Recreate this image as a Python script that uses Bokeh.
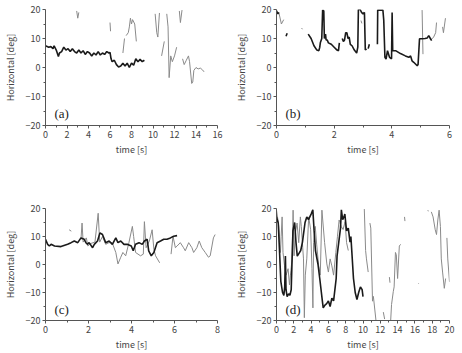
import math
from bokeh.plotting import figure
from bokeh.layouts import gridplot
from bokeh.models import Range1d, FixedTicker, Label
from bokeh.embed import file_html
from bokeh.resources import INLINE

N = float("nan")

# ---------------- panel (a) ----------------
a_black_t = [0, 0.3, 0.5, 0.7, 0.8, 1.0, 1.2, 1.3, 1.5, 1.7, 1.9, 2.1, 2.3, 2.5, 2.7, 2.9, 3.1, 3.3, 3.5, 3.7,
             3.9, 4.1, 4.3, 4.5, 4.7, 4.9, 5.1, 5.3, 5.5, 5.7, 5.9, 6.0, 6.1, 6.2, 6.4, 6.6, 6.8, 7.0, 7.2, 7.4,
             7.6, 7.8, 8.0, 8.2, 8.4, 8.6, 8.8, 9.0, 9.2]
a_black_v = [7.5, 7.0, 7.2, 6.5, 7.5, 6.0, 3.8, 5.0, 5.5, 7.0, 6.0, 6.5, 5.5, 6.5, 5.5, 5.0, 6.0, 5.0, 5.8, 4.5,
             5.5, 5.0, 4.0, 5.0, 4.3, 5.5, 4.3, 5.0, 4.5, 5.5, 5.0, 5.2, 3.0, 2.0, 2.5, 1.0, 0.2, 0.5, 1.5, 0.5,
             1.5, 0.0, 1.5, 0.8, 3.0, 2.0, 2.8, 2.0, 2.5]
a_gray_t = [2.9, 3.0, 3.1, N, 6.0, 6.05, N, 7.2, 7.35, N, 7.5, 7.7, 7.8, 7.9, 8.0, 8.1, 8.3, 8.45, N,
            10.2, 10.35, 10.45, 10.6, N, 10.8, 11.05, N, 11.28, 11.4, 11.5, 11.65, 11.8, 12.0, 12.2, N,
            12.45, 12.55, 12.7, N, 12.75, 12.9, 13.1, 13.3, 13.4, 13.6, 13.7, 13.8, 14.0, 14.2, 14.4, 14.6, 14.75]
a_gray_v = [19.5, 17.0, 19.0, N, 15.5, 12.5, N, 5.0, 10.0, N, 11.0, 12.0, 14.0, 17.0, 15.0, 16.5, 15.0, 9.0, N,
            18.5, 12.0, 10.5, 18.8, N, 4.0, 9.0, N, 18.5, 14.0, -3.5, 4.0, 2.0, 4.0, 7.0, N,
            19.5, 15.5, 19.8, N, 3.0, 1.0, 2.5, 4.0, 2.0, -5.5, -5.0, -1.0, 0.0, -0.5, -0.2, -0.8, -1.5]

# ---------------- panel (b) ----------------
b_black_t = [0.0, 0.05, 0.08, N, 0.33, 0.37, N,
             1.1, 1.2, 1.3, 1.4, 1.47, 1.5, 1.52, 1.57, 1.6, 1.64, 1.66, 1.7, 1.72, 1.76, 1.8, 1.9, 2.0, 2.1,
             2.15, 2.18, N,
             2.28, 2.32, 2.36, 2.4, 2.44, 2.48, 2.52, 2.56, 2.62, 2.7, 2.78, 2.82, 2.84, 2.9, 2.95, 3.0, 3.05,
             3.08, 3.12, N, 3.18, 3.22, N,
             3.5, 3.51, 3.6, 3.69, 3.72, 3.76, 3.8, 3.85, 3.89, 3.92, 3.99, 4.01, 4.03, 4.13, 4.3, 4.47, 4.59,
             4.65, 4.7, 4.76, 4.82, 4.88, 4.91, 4.96, 5.05, 5.15, 5.23, 5.28, 5.38]
b_black_v = [19.5, 18.5, 19.0, N, 10.8, 11.8, N,
             11.5, 10.0, 7.5, 6.0, 5.8, 7.0, 8.5, 10.0, 19.8, 19.5, 10.0, 11.5, 9.5, 9.5, 8.5, 8.0, 7.0, 6.0,
             5.8, 8.5, N,
             10.0, 9.0, 9.5, 12.0, 12.0, 10.0, 10.5, 8.0, 7.5, 6.0, 5.0, 7.0, 20.0, 20.0, 19.0, 18.5, 19.0,
             6.0, 6.5, N, 6.5, 8.0, N,
             8.0, 19.8, 19.8, 19.8, 16.3, 3.5, 2.9, 5.8, 4.5, 3.5, 3.0, 19.0, 5.8, 5.8, 4.8, 4.0, 3.5,
             4.0, 2.3, 1.8, 1.2, 0.6, 1.0, 9.9, 9.9, 10.0, 10.2, 11.0, 9.3]
b_gray_t = [0.08, 0.17, 0.25, N, 0.87, 0.9, N, 2.93, 2.96, N, 5.05, 5.08, N,
            5.3, 5.35, 5.45, 5.52, 5.55, N, 5.76, 5.79, 5.86]
b_gray_v = [19.0, 15.0, 16.5, N, 13.6, 13.2, N, 16.2, 15.2, N, 19.8, 4.6, N,
            10.0, 9.5, 10.5, 12.0, 15.5, N, 14.0, 12.0, 17.0]

# ---------------- panel (c) ----------------
c_black_t = [0.0, 0.1, 0.18, 0.26, 0.42, 0.72, 1.03, 1.19, 1.34, 1.5, 1.65, 1.8, 1.88, 1.95, 2.03, 2.19, 2.27,
             2.42, 2.53, 2.65, 2.8, 2.96, 3.11, 3.27, 3.37, 3.5, 3.65, 3.8, 3.99, 4.08, 4.19, 4.35, 4.5, 4.6,
             4.73, 4.8, 4.92, 5.04, 5.19, 5.35, 5.5, 5.65, 5.81, 5.96, 6.12]
c_black_v = [9.0, 7.2, 6.6, 7.2, 6.6, 6.4, 7.2, 7.8, 8.4, 7.8, 9.5, 9.0, 7.8, 7.2, 7.8, 6.0, 7.2,
             8.4, 11.3, 10.7, 7.8, 8.4, 7.2, 9.5, 7.8, 8.4, 7.2, 7.2, 6.6, 4.9, 7.2, 7.8, 7.2, 8.4,
             9.0, 4.9, 3.1, 4.3, 7.8, 8.4, 9.0, 9.0, 9.5, 10.1, 10.3]
c_gray_t = [1.1, 1.2, N,
            1.65, 1.7, 1.75, 1.9, 1.97, 2.1, 2.3, 2.45, 2.52, 2.65, 2.8, 2.95, 3.1, 3.27, 3.37, 3.5, 3.6, 3.73,
            3.88, 4.04, 4.1, 4.19, 4.42, 4.55, 4.6, 4.68, 4.83, 4.96, 5.04, 5.12, 5.31, N,
            5.84, 5.93, 6.04, 6.12, 6.27, 6.42, 6.5, 6.66, 6.81, 6.89, 7.04, 7.15, 7.27, 7.43, 7.58, 7.66,
            7.81, 7.89]
c_gray_v = [12.4, 11.9, N,
            9.0, 14.8, 8.0, 9.5, 6.6, 7.5, 8.0, 18.3, 8.0, 10.0, 7.2, 7.8, 7.8, 4.3, 0.2, 2.6, 4.3, 3.1,
            7.8, 13.6, 10.0, 4.3, 3.1, 3.7, 15.3, 6.0, 8.4, 12.4, 5.5, 3.1, 0.6, N,
            3.7, 10.1, 6.0, 6.6, 7.8, 6.0, 4.9, 7.8, 6.0, 4.3, 6.0, 8.4, 6.0, 4.3, 2.6, 3.1,
            9.5, 10.7]

# ---------------- panel (d) ----------------
d_black_t = [0.0, 0.2, 0.34, 0.5, 0.7, 0.85, 0.95, 1.03, 1.1, 1.23, 1.4, 1.55, 1.7, 1.9, 2.1, 2.25, 2.4, 2.6,
             2.8, 3.0, 3.3, 3.5, 3.7, 4.0, 4.2, 4.35, 4.5, 4.8, 5.0, 5.3, 5.4, 5.6, 5.8, 6.0, 6.2, 6.4, 6.6,
             6.9, 7.0, 7.2, 7.4, 7.5, 7.65, 7.8, 7.9, 8.1, 8.3, 8.5, 8.6, 8.7, 8.9, 9.1, 9.3, 9.5, 9.7,
             9.9, 10.0]
d_black_v = [17.0, 14.8, 5.5, -6.0, -10.0, -11.0, -8.0, 3.0, -9.0, -11.5, -10.5, -11.0, -9.0, 12.0, 15.0,
             8.0, 3.0, 4.0, 5.0, 8.0, 15.0, 17.0, 16.0, 18.0, 19.5, 12.0, 5.0, 0.0, -5.0, -13.0, -15.5,
             -14.5, -14.0, -13.0, -15.0, -12.0, -13.0, -5.0, 3.0, 8.0, 13.0, 19.5, 16.0, 17.0, 18.0, 12.0,
             13.0, 8.0, 10.0, 5.0, -5.0, -10.0, -12.5, -10.0, -8.0, -9.0, -11.5]
d_gray_t = [0.0, 0.27, 0.46, 0.54, 0.65, 0.75, 0.92, 1.11, 1.34, 1.5, 1.61, 1.8, 1.92, 2.03, 2.18, 2.38,
            2.57, 2.76, 2.87, 3.03, 3.12, 3.22, 3.33, 3.5, 3.72, 3.95, 4.1, 4.21, 4.29, 4.48, 4.65, 4.87,
            5.06, 5.25, 5.56, 5.82, 6.0, 6.2, 6.4, 6.6, 6.86, 7.05, 7.24, 7.47, 7.7, 7.93, 8.1, 8.3, N,
            10.15, 10.3, 10.4, 10.6, N, 10.8, 10.9, 11.1, 11.2, 11.5, N, 12.35, 12.5, N,
            13.2, 13.3, 13.5, 13.6, 13.75, 13.85, 14.0, 14.2, 14.35, N, 13.05, 13.12, N, 14.8, 14.85, N,
            16.4, 16.45, N, 17.5, 17.55, N,
            17.9, 18.1, 18.35, 18.5, 18.65, 18.8, 18.95, 19.05, 19.2, 19.4, 19.55, N, 19.7, 19.8, 20.0]
d_gray_v = [19.4, 13.6, 4.3, 10.1, 17.0, 4.3, -0.3, -3.8, -1.5, -7.3, -3.8, 2.0, 19.4, 3.1, 11.3, 14.8,
            7.8, 17.0, 13.6, 6.0, 2.0, -19.0, -3.8, 2.0, 17.0, 12.4, -1.5, -15.5, 7.8, 13.6, 7.0, -0.3,
            -3.8, 19.4, 7.8, 0.2, -2.7, 2.0, -0.5, -3.8, 4.3, 10.1, 15.9, 13.6, 12.5, 15.3, 7.8, 5.0, N,
            19.8, 5.0, 2.0, -2.7, N, 14.8, 13.0, -13.1, -11.4, -20.0, N, -17.0, -19.5, N,
            -20.0, -14.3, -9.7, -8.0, 4.3, 3.5, -5.0, 6.6, 7.2, N, -4.5, -6.5, N, 17.0, 15.5, N,
            -6.7, -6.9, N, 19.4, 19.0, N,
            18.8, 17.0, 12.4, 10.7, 15.9, 19.4, 13.6, 2.0, -2.7, -8.5, -5.0, N, 9.5, 2.0, -6.2]

panels = [
    ("(a)", 16, [0, 2, 4, 6, 8, 10, 12, 14, 16], a_black_t, a_black_v, a_gray_t, a_gray_v),
    ("(b)", 6, [0, 2, 4, 6], b_black_t, b_black_v, b_gray_t, b_gray_v),
    ("(c)", 8, [0, 2, 4, 6, 8], c_black_t, c_black_v, c_gray_t, c_gray_v),
    ("(d)", 20, [0, 2, 4, 6, 8, 10, 12, 14, 16, 18, 20], d_black_t, d_black_v, d_gray_t, d_gray_v),
]
y_ticks = [-20, -10, 0, 10, 20]

FONT = "Noto Sans CJK JP"
figs = []
for i, (name, xmax, xt, bt, bv, gt, gv) in enumerate(panels):
    top = i < 2
    p = figure(width=231, height=176 if top else 177, output_backend="svg", toolbar_location=None,
               x_range=Range1d(0, xmax), y_range=Range1d(-20, 20),
               min_border_left=44, min_border_right=14 if i % 2 == 0 else 13,
               min_border_top=9 if top else 32, min_border_bottom=51 if top else 30)
    p.outline_line_color = None
    p.xgrid.visible = False
    p.ygrid.visible = False
    p.background_fill_color = "white"
    p.border_fill_color = "white"

    minor_x = [xt[k] + (xt[1] - xt[0]) / 2 for k in range(len(xt) - 1)]
    p.xaxis.ticker = FixedTicker(ticks=xt, minor_ticks=minor_x)
    p.yaxis.ticker = FixedTicker(ticks=y_ticks, minor_ticks=[-15, -5, 5, 15])
    p.xaxis.axis_label = "time [s]"
    p.yaxis.axis_label = "Horizontal [deg]"
    for ax in (p.xaxis, p.yaxis):
        ax.axis_line_color = "#555555"
        ax.axis_line_width = 1
        ax.major_tick_line_color = "#555555"
        ax.minor_tick_line_color = "#555555"
        ax.major_tick_out = 3
        ax.major_tick_in = 0
        ax.minor_tick_out = 2
        ax.minor_tick_in = 0
        ax.major_label_text_font = FONT
        ax.major_label_text_font_size = "9px"
        ax.major_label_text_color = "#444444"
        ax.axis_label_text_font = FONT
        ax.axis_label_text_font_size = "9px"
        ax.axis_label_text_font_style = "normal"
        ax.axis_label_text_color = "#444444"
    p.xaxis.major_label_standoff = 2
    p.xaxis.axis_label_standoff = 2
    p.yaxis.major_label_standoff = 2
    p.yaxis.axis_label_standoff = 6

    p.line(gt, gv, line_color="#8a8a8a", line_width=1.0)
    p.line(bt, bv, line_color="#1a1a1a", line_width=1.6)

    p.add_layout(Label(x=xmax * 9 / 173, y=-16, text=name, text_font="Liberation Serif",
                       text_font_size="13px", text_color="#222222", text_baseline="middle",
                       text_align="left"))
    figs.append(p)

grid = gridplot([[figs[0], figs[1]], [figs[2], figs[3]]], toolbar_location=None)
open("out.html", "w").write(file_html(grid, INLINE))
